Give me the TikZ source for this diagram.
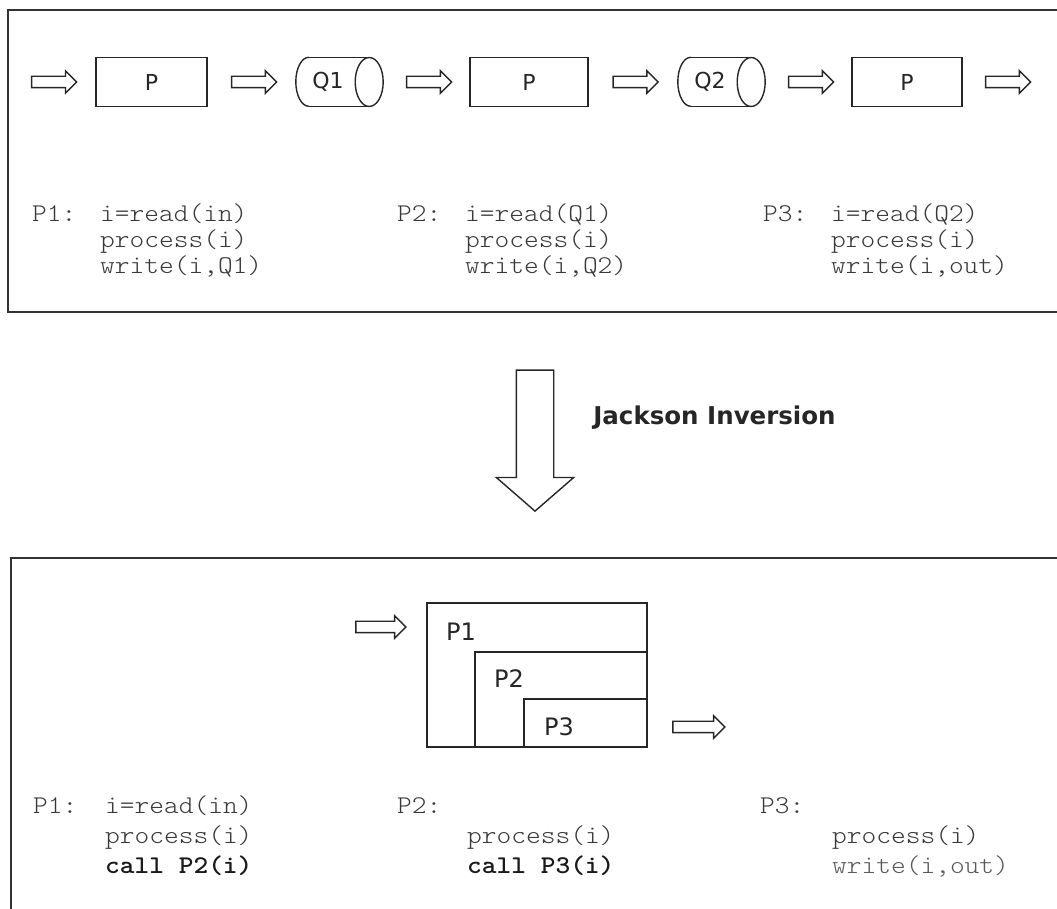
\documentclass[tikz,border=0pt]{standalone}
\usepackage{fontspec}
\usetikzlibrary{shapes.arrows,calc}
\newfontfamily\sansf{DejaVu Sans}
\newfontfamily\monof{Latin Modern Mono Light}[FakeStretch=1.1]
\begin{document}
\begin{tikzpicture}[x=1pt,y=1pt,
  frame/.style={line width=2pt, draw=black!80},
  pbox/.style={draw=black!85, line width=1.4pt, minimum height=49pt, inner sep=0pt,
    font=\sansf\fontsize{22}{26}\selectfont, text=black!85},
  cylbox/.style={minimum width=88pt, minimum height=49pt, inner sep=0pt},
  cyl/.style={draw=black!85, line width=1.4pt},
  harrow/.style={single arrow, draw=black!85, line width=1.4pt, fill=white,
    inner xsep=0pt, inner ysep=5pt, single arrow head extend=5.5pt, minimum height=45pt},
  code/.style={anchor=base west, inner sep=0pt, font=\monof\fontsize{25.5}{26}\selectfont, text=black!78},
  bcode/.style={code, font=\monof\bfseries\fontsize{25.5}{26}\selectfont, text=black!90},
  nest/.style={draw=black!85, line width=1.4pt, inner sep=0pt},
  nlabel/.style={font=\sansf\fontsize{24}{28}\selectfont, inner sep=0pt, text=black!85},
]
\useasboundingbox (0,0) rectangle (1057,909);
% frames
\draw[frame] (1062,899) -- (8,899) -- (8,597) -- (1062,597);
\draw[frame] (1062,351) -- (11,351) -- (11,-5);

% top pipeline
\node[pbox, minimum width=111pt] (p1) at (151.5,827) {P};
\node[cylbox] (q1) at (339,827) {};
\node[pbox, minimum width=118pt] (p2) at (529,827) {P};
\node[cylbox] (q2) at (721,827) {};
\node[pbox, minimum width=110pt] (p3) at (907,827) {P};

\foreach \q/\t in {q1/Q1,q2/Q2}{
  \draw[cyl] ($(\q.north west)+(14,0)$) -- ($(\q.north east)+(-14,0)$);
  \draw[cyl] ($(\q.south west)+(14,0)$) -- ($(\q.south east)+(-14,0)$);
  \draw[cyl] ($(\q.north west)+(14,0)$) arc[start angle=90, end angle=270, x radius=13, y radius=24.5];
  \draw[cyl] ($(\q.east)+(-14,0)$) ellipse[x radius=14, y radius=24.5];
  \node[font=\sansf\fontsize{22}{26}\selectfont, inner sep=0pt, text=black!85] at ($(\q.center)+(-11,0)$) {\t};
}

\node[harrow] (a0) at ($(p1.west)+(-44,0)$) {};
\node[harrow] (a1) at ($(p1.east)!0.5!(q1.west)$) {};
\node[harrow] (a2) at ($(q1.east)!0.5!(p2.west)$) {};
\node[harrow] (a3) at ($(p2.east)!0.5!(q2.west)$) {};
\node[harrow] (a4) at ($(q2.east)!0.5!(p3.west)$) {};
\node[harrow] (a5) at ($(p3.east)+(42.5,0)$) {};

% top code
\node[code] (t1a) at (32,687) {P1:};
\node[code] (t1b) at (100,687) {i=read(in)};
\node[code] (t1c) at (100,661) {process(i)};
\node[code] (t1d) at (100,635) {write(i,Q1)};
\node[code] (t2a) at (397,687) {P2:};
\node[code] (t2b) at (465,687) {i=read(Q1)};
\node[code] (t2c) at (465,661) {process(i)};
\node[code] (t2d) at (465,635) {write(i,Q2)};
\node[code] (t3a) at (763,687) {P3:};
\node[code] (t3b) at (831,687) {i=read(Q2)};
\node[code] (t3c) at (831,661) {process(i)};
\node[code] (t3d) at (831,635) {write(i,out)};

% big arrow
\node[single arrow, draw=black!85, line width=1.4pt, fill=white, rotate=-90,
  inner xsep=0pt, inner ysep=18pt, single arrow head extend=20pt,
  single arrow tip angle=98, minimum height=141pt] (big) at (535,476.5) {};
\node[font=\sansf\bfseries\fontsize{24.5}{28}\selectfont, text=black!85, inner sep=0pt]
  (jl) at (714.5,491) {Jackson Inversion};

% nested boxes
\node[nest, minimum width=220pt, minimum height=144pt] (n1) at (537,234) {};
\node[nest, minimum width=172pt, minimum height=95pt] (n2) at (561,209.5) {};
\node[nest, minimum width=123pt, minimum height=48pt] (n3) at (585.5,186) {};
\node[nlabel] (l1) at (461,277) {P1};
\node[nlabel] (l2) at (509,230) {P2};
\node[nlabel] (l3) at (559,182) {P3};
\node[harrow, minimum height=50pt] (b1) at (378,282) {};
\node[harrow, minimum height=52pt] (b2) at (696,182) {};

% bottom code
\node[code] (u1a) at (33,95) {P1:};
\node[code] (u1b) at (105,95) {i=read(in)};
\node[code] (u1c) at (105,65) {process(i)};
\node[bcode] (u1d) at (105,35) {call P2(i)};
\node[code] (u2a) at (397,95) {P2:};
\node[code] (u2c) at (467,65) {process(i)};
\node[bcode] (u2d) at (467,35) {call P3(i)};
\node[code] (u3a) at (760,95) {P3:};
\node[code] (u3c) at (832,65) {process(i)};
\node[code, text=black!65] (u3d) at (832,35) {write(i,out)};
\end{tikzpicture}
\end{document}
